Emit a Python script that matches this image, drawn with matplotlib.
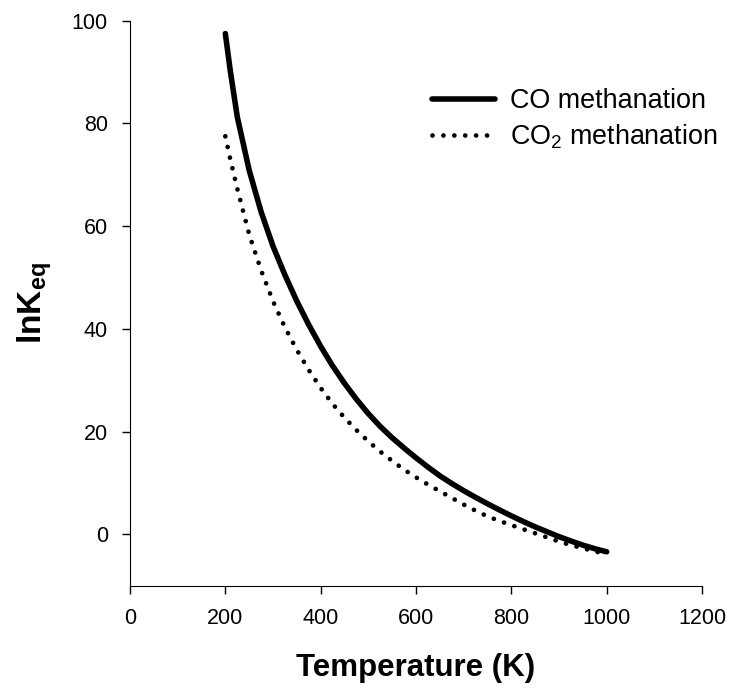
import matplotlib
matplotlib.use("Agg")
import matplotlib.pyplot as plt

plt.rcParams['font.family'] = ['Liberation Sans', 'DejaVu Sans']
plt.rcParams['mathtext.fontset'] = 'custom'
plt.rcParams['mathtext.rm'] = 'Liberation Sans'
plt.rcParams['mathtext.bf'] = 'Liberation Sans:bold'

# temperatures (K) and ln K_eq for both reactions
temp = [200, 210, 225, 250, 275, 300, 325, 350, 375, 400, 425, 450, 475, 500,
        525, 550, 575, 600, 625, 650, 675, 700, 725, 750, 775, 800, 825,
        850, 875, 900, 925, 950, 975, 1000]
lnk_co = [97.5, 90.5, 81.3, 70.9, 62.8, 56.1, 50.5, 45.4, 40.8, 36.6, 32.8,
          29.4, 26.3, 23.5, 21.0, 18.8, 16.8, 14.9, 13.1, 11.4, 9.9, 8.5,
          7.2, 5.95, 4.75, 3.6, 2.5, 1.45, 0.5, -0.45, -1.3, -2.1, -2.8, -3.4]
lnk_co2 = [77.5, 73.2, 67.3, 58.4, 51.4, 45.4, 40.3, 35.9, 32.0, 28.5, 25.4,
           22.7, 20.3, 18.1, 16.1, 14.3, 12.6, 11.1, 9.7, 8.4, 7.1, 5.8,
           4.6, 3.5, 2.6, 1.8, 1.0, 0.2, -0.6, -1.4, -2.1, -2.7, -3.3, -3.9]

fig = plt.figure(figsize=(7.32, 6.91), dpi=100)
ax = fig.add_axes([130/732, 1 - 585.7/691, 572/732, 565/691])

ax.plot(temp, lnk_co, color='black', lw=4.0, solid_capstyle='round',
        solid_joinstyle='round', label='CO methanation')
ax.plot(temp, lnk_co2, color='black', lw=3.4, linestyle=(0, (0.01, 2.3)),
        dash_capstyle='round', label='CO$_2$ methanation')

ax.set_xlim(0, 1200)
ax.set_ylim(-10, 100)
ax.set_xticks([0, 200, 400, 600, 800, 1000, 1200])
ax.set_yticks([0, 20, 40, 60, 80, 100])
ax.spines['top'].set_visible(False)
ax.spines['right'].set_visible(False)
ax.tick_params(direction='out', length=6, width=1, pad=10, labelsize=15.5)

ax.set_xlabel('Temperature (K)', fontsize=22.5, fontweight='bold', labelpad=17)
ax.set_ylabel(r'$\mathbf{lnK_{eq}}$', fontsize=24, labelpad=13)

ax.legend(loc='upper left', bbox_to_anchor=(0.528, 0.88), frameon=False,
          borderpad=0, borderaxespad=0, fontsize=19.4, handlelength=2.35,
          handletextpad=0.55, labelspacing=0.3)

fig.savefig('out.png', dpi=100)
